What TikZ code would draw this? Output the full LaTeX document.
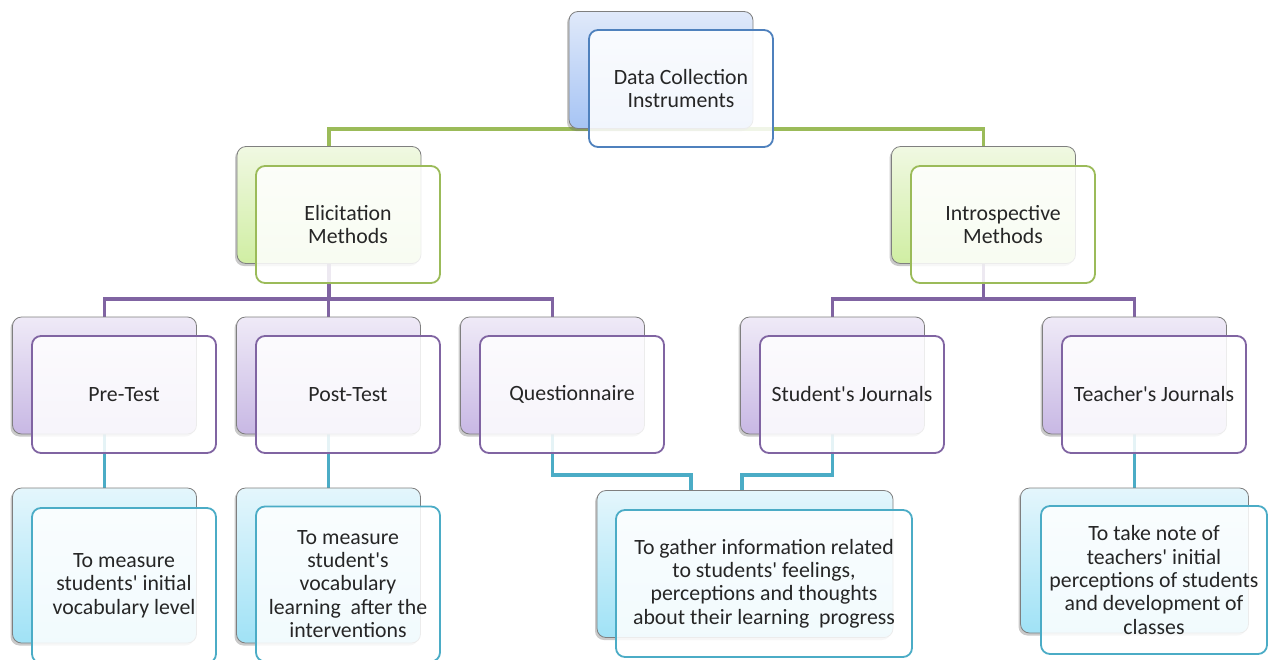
\documentclass[tikz,border=0pt]{standalone}
\usepackage{fontspec}
\setmainfont{Carlito}[Ligatures=TeXOff]
\usetikzlibrary{shadows}
\definecolor{txt}{HTML}{262626}
\definecolor{bluec}{HTML}{4F81BD}
\definecolor{greenc}{HTML}{9BBB59}
\definecolor{purplec}{HTML}{8064A2}
\definecolor{cyanc}{HTML}{4BACC6}
\definecolor{backline}{HTML}{7F7F7F}
\tikzset{
  backbox/.style={rounded corners=9pt, draw=backline, line width=0.8pt,
    drop shadow={shadow xshift=-2pt, shadow yshift=-2.5pt, opacity=0.35, fill=black!60},
    inner sep=0pt},
  frontbox/.style={rounded corners=9pt, fill=white, fill opacity=0.86, text opacity=1,
    line width=1.8pt, inner sep=0pt, align=center, text=txt,
    font=\fontsize{21.8}{23.4}\selectfont},
  lvA/.style={backbox, top color={rgb,255:red,224;green,233;blue,250}, bottom color={rgb,255:red,166;green,196;blue,244}},
  lvB/.style={backbox, top color={rgb,255:red,240;green,248;blue,226}, bottom color={rgb,255:red,208;green,238;blue,163}},
  lvC/.style={backbox, top color={rgb,255:red,239;green,234;blue,247}, bottom color={rgb,255:red,200;green,184;blue,228}},
  lvD/.style={backbox, top color={rgb,255:red,228;green,246;blue,252}, bottom color={rgb,255:red,160;green,226;blue,246}},
  sz/.style={minimum width=184pt, minimum height=117pt},
  sztall/.style={minimum width=184pt, minimum height=155pt},
  conn/.style={line width=3.6pt},
}
\begin{document}
\begin{tikzpicture}[x=1pt,y=-1pt]
\useasboundingbox (0,0) rectangle (1268,659);
% junctions
\coordinate (j1) at (329,299);
\coordinate (j2) at (983.5,299);
\coordinate (q1) at (691,475);
\coordinate (q2) at (742,475);

% placeholders for back boxes (named anchors)
\path
  (661,70) node[sz, inner sep=0pt] (topb) {}
  (329,205) node[sz, inner sep=0pt] (elicb) {}
  (983.5,205) node[sz, inner sep=0pt] (introb) {}
  (104.5,375.5) node[sz, inner sep=0pt] (preb) {}
  (328.5,375.5) node[sz, inner sep=0pt] (postb) {}
  (552.5,375.5) node[sz, inner sep=0pt] (questb) {}
  (832.5,375.5) node[sz, inner sep=0pt] (sjb) {}
  (1134.5,375.5) node[sz, inner sep=0pt] (tjb) {}
  (104.5,565.5) node[sztall, inner sep=0pt] (predb) {}
  (328.5,565.5) node[sztall, inner sep=0pt] (postdb) {}
  (745,564) node[minimum width=296pt, minimum height=147pt, inner sep=0pt] (midb) {}
  (1134.5,560.5) node[minimum width=228pt, minimum height=145pt, inner sep=0pt] (tjdb) {};

% connectors
\draw[conn, greenc] (elicb.north) |- (topb.south) -| (introb.north);
\draw[conn, purplec] (preb.north) |- (j1) -| (questb.north);
\draw[conn, purplec] (elicb.south) -- (j1);
\draw[conn, purplec] (postb.north) -- (postb.north |- j1);
\draw[conn, purplec] (sjb.north) |- (j2) -| (tjb.north);
\draw[conn, purplec] (introb.south) -- (j2);
\draw[conn, cyanc] (preb.south) -- (predb.north);
\draw[conn, cyanc] (postb.south) -- (postdb.north);
\draw[conn, cyanc] (questb.south) |- (q1) -- (q1 |- midb.north);
\draw[conn, cyanc] (sjb.south) |- (q2) -- (q2 |- midb.north);
\draw[conn, cyanc] (tjb.south) -- (tjdb.north);

% back boxes drawn
\node[lvA, sz] at (topb) {};
\node[lvB, sz] at (elicb) {};
\node[lvB, sz] at (introb) {};
\node[lvC, sz] at (preb) {};
\node[lvC, sz] at (postb) {};
\node[lvC, sz] at (questb) {};
\node[lvC, sz] at (sjb) {};
\node[lvC, sz] at (tjb) {};
\node[lvD, sztall] at (predb) {};
\node[lvD, sztall] at (postdb) {};
\node[lvD, minimum width=296pt, minimum height=147pt] at (midb) {};
\node[lvD, minimum width=228pt, minimum height=145pt] at (tjdb) {};

% front boxes
\node[frontbox, sz, draw=bluec] (top) at (681,88.5) {Data Collection\\Instruments};
\node[frontbox, sz, draw=greenc] (elic) at (348,224.5) {Elicitation\\Methods};
\node[frontbox, sz, draw=greenc] (intro) at (1003,224.5) {Introspective\\Methods};
\node[frontbox, sz, draw=purplec] (pre) at (124,394.5) {Pre-Test};
\node[frontbox, sz, draw=purplec] (post) at (348,394.5) {Post-Test};
\node[frontbox, sz, draw=purplec] (quest) at (572,394.5) {Questionnaire};
\node[frontbox, sz, draw=purplec] (sj) at (852,394.5) {Student's Journals};
\node[frontbox, sz, draw=purplec] (tj) at (1154,394.5) {Teacher's Journals};
\node[frontbox, sztall, draw=cyanc] (pred) at (124,585.5) {To measure\\students' initial\\vocabulary level};
\node[frontbox, sztall, draw=cyanc] (postd) at (348,584) {To measure\\student's\\vocabulary\\learning~ after the\\interventions};
\node[frontbox, minimum width=296pt, minimum height=147pt, draw=cyanc] (mid) at (764,583.5) {To gather information related\\to students' feelings,\\perceptions and thoughts\\about their learning~ progress};
\node[frontbox, minimum width=226pt, minimum height=148pt, draw=cyanc] (tjd) at (1154,580) {To take note of\\teachers' initial\\perceptions of students\\and development of\\classes};
\end{tikzpicture}
\end{document}
